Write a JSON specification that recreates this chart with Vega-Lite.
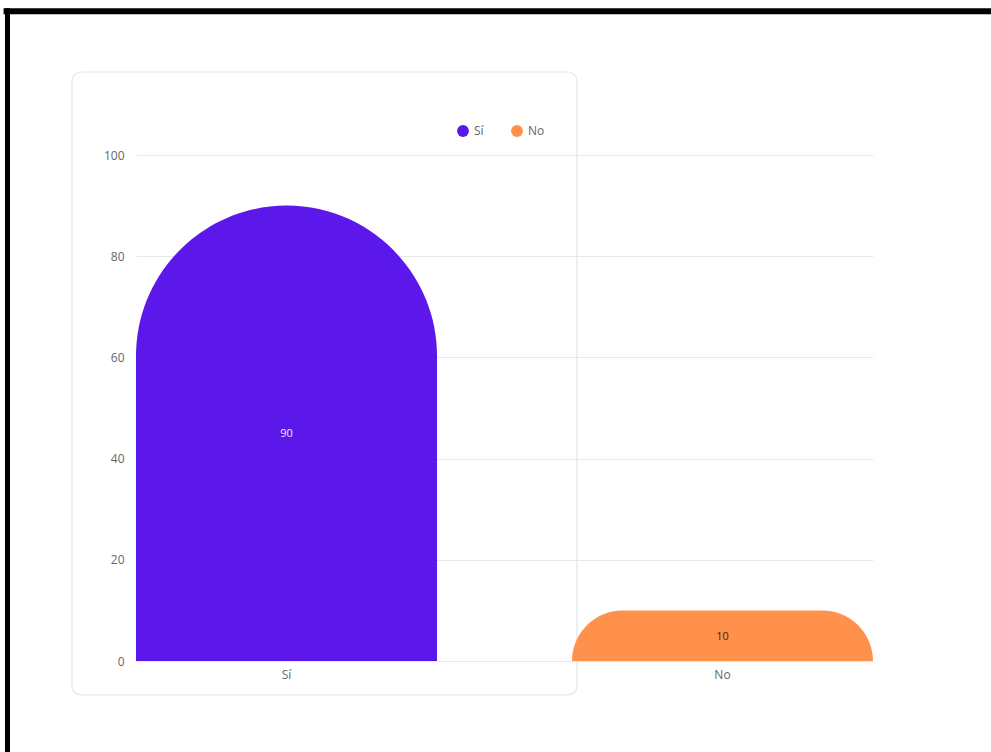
{
  "$schema": "https://vega.github.io/schema/vega-lite/v6.json",
  "autosize": "none",
  "width": 737,
  "height": 506,
  "padding": {"left": 136, "top": 155, "right": 118, "bottom": 91},
  "background": "white",
  "config": {
    "font": "Open Sans",
    "view": {"stroke": null},
    "axisX": {"title": null, "labelAngle": 0, "ticks": false, "domain": false, "labelColor": "#666666", "labelFontSize": 12, "labelPadding": 8, "grid": false},
    "axisY": {"title": null, "ticks": false, "domain": false, "labelColor": "#666666", "labelFontSize": 12, "labelPadding": 12, "grid": true, "gridColor": "#e8e8e8"}
  },
  "layer": [
    {
      "data": {"values": [{"marco": "borde"}]},
      "mark": {"type": "rule", "color": "black", "strokeWidth": 6},
      "encoding": {
        "x": {"datum": "Sí", "bandPosition": -0.44},
        "x2": {"datum": "No", "bandPosition": 1.6},
        "y": {"datum": 128.4}
      }
    },
    {
      "data": {"values": [{"marco": "borde"}]},
      "mark": {"type": "rule", "color": "black", "strokeWidth": 5},
      "encoding": {
        "x": {"datum": "Sí", "bandPosition": -0.427},
        "y": {"datum": 129},
        "y2": {"datum": -25}
      }
    },
    {
      "data": {"values": [{"marco": "tarjeta"}]},
      "mark": {"type": "rect", "fill": "transparent", "stroke": "#e6e6e6", "strokeWidth": 1.2, "cornerRadius": 9},
      "encoding": {
        "x": {"datum": "Sí", "bandPosition": -0.2126},
        "x2": {"datum": "Sí", "bandPosition": 1.465},
        "y": {"datum": 116.4},
        "y2": {"datum": -6.7}
      }
    },
    {
      "data": {"values": [{"respuesta": "Sí", "valor": 90}, {"respuesta": "No", "valor": 10}]},
      "mark": {
        "type": "bar", "clip": true,
        "cornerRadiusTopLeft": {"expr": "min(bandwidth('x') / 2, scale('y', 0) - scale('y', datum.valor))"},
        "cornerRadiusTopRight": {"expr": "min(bandwidth('x') / 2, scale('y', 0) - scale('y', datum.valor))"}
      },
      "encoding": {
        "x": {
          "field": "respuesta", "type": "nominal", "sort": ["Sí", "No"],
          "scale": {"paddingInner": 0.3096, "paddingOuter": 0},
          "axis": {"values": ["Sí", "No"]}
        },
        "y": {
          "field": "valor", "type": "quantitative",
          "scale": {"domain": [0, 100], "nice": false},
          "axis": {"values": [0, 20, 40, 60, 80, 100]}
        },
        "y2": {"datum": -20},
        "color": {
          "field": "respuesta", "type": "nominal",
          "scale": {"domain": ["Sí", "No"], "range": ["#5c17eb", "#ff914d"]},
          "legend": {
            "title": null, "orient": "none", "direction": "horizontal",
            "legendX": 320, "legendY": -31, "symbolType": "circle", "symbolSize": 140,
            "symbolOpacity": 1, "labelColor": "#666666", "labelFontSize": 12, "columnPadding": 26, "padding": 0
          }
        }
      }
    },
    {
      "data": {"values": [{"respuesta": "Sí", "valor": 90}, {"respuesta": "No", "valor": 10}]},
      "mark": {
        "type": "text", "fontSize": 11, "baseline": "middle",
        "dy": {"expr": "(scale('y', 0) - scale('y', datum.valor)) / 2 + 1"}
      },
      "encoding": {
        "x": {"field": "respuesta", "type": "nominal", "sort": ["Sí", "No"]},
        "y": {"field": "valor", "type": "quantitative"},
        "text": {"field": "valor", "type": "quantitative"},
        "color": {
          "condition": {"test": "datum.respuesta === 'Sí'", "value": "#ece4ff"},
          "value": "#4a2208"
        }
      }
    }
  ]
}
